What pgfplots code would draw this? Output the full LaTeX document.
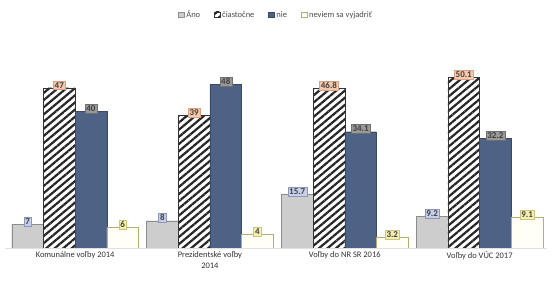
\documentclass[border=0pt]{standalone}
\usepackage{fontspec}
\setmainfont{Carlito}
\usepackage{pgfplots}
\pgfplotsset{compat=1.18}
\usetikzlibrary{patterns.meta}
\definecolor{anoF}{HTML}{CDCDCD}
\definecolor{anoD}{HTML}{8C8C8C}
\definecolor{nieF}{HTML}{4E6285}
\definecolor{nieD}{HTML}{3A4A66}
\definecolor{nevD}{HTML}{B9AC72}
\definecolor{nevF}{HTML}{FFFFF6}
\definecolor{labA}{HTML}{C6CEE8}
\definecolor{labAD}{HTML}{8D97BB}
\definecolor{labC}{HTML}{F6C8AC}
\definecolor{labCD}{HTML}{D9A283}
\definecolor{labN}{HTML}{999999}
\definecolor{labND}{HTML}{707070}
\definecolor{labV}{HTML}{F5EFAE}
\definecolor{labVD}{HTML}{CFC480}
\begin{document}
\begin{tikzpicture}
\useasboundingbox (-5bp,-39bp) rectangle (547bp,248bp);
\begin{axis}[
  scale only axis, width=542bp, height=208bp,
  ybar=0pt, bar width=0.235,
  xmin=-0.52, xmax=3.5, ymin=0, ymax=61,
  axis y line=none, axis x line*=bottom,
  x axis line style={draw=black!12,-},
  xtick={0,1,2,3},
  xticklabels={Komunálne voľby 2014, Prezidentské voľby\\2014, Voľby do NR SR 2016, Voľby do VÚC 2017},
  xticklabel style={align=center, font=\fontsize{8.5}{11}\selectfont, text=black!80},
  major tick length=0pt,
  /pgf/number format/assume math mode=true,
  nodes near coords,
  every node near coord/.append style={font=\fontsize{9}{10}\selectfont\bfseries, inner sep=1.5pt, text=black!75, yshift=-2pt},
  legend style={at={(0.5,1.12)}, anchor=center, draw=none, legend columns=4, font=\fontsize{8.5}{9}\selectfont, text=black!70,
    /tikz/every even column/.append style={column sep=12pt}},
  legend image code/.code={\draw[#1] (0cm,-0.09cm) rectangle (0.2cm,0.11cm);},
]
\addplot[fill=anoF, draw=anoD, every node near coord/.append style={fill=labA, draw=labAD}]
  coordinates {(0,7) (1,8) (2,15.7) (3,9.2)};
\addplot[fill=white, draw=black!80, postaction={pattern={Lines[angle=40,distance=5.5pt,line width=2.2pt]}, pattern color=black!85}, every node near coord/.append style={fill=labC, draw=labCD}]
  coordinates {(0,47) (1,39) (2,46.8) (3,50.1)};
\addplot[fill=nieF, draw=nieD, every node near coord/.append style={fill=labN, draw=labND}]
  coordinates {(0,40) (1,48) (2,34.1) (3,32.2)};
\addplot[fill=nevF, draw=nevD, every node near coord/.append style={fill=labV, draw=labVD}]
  coordinates {(0,6) (1,4) (2,3.2) (3,9.1)};
\legend{Áno, čiastočne, nie, neviem sa vyjadriť}
\end{axis}
\end{tikzpicture}
\end{document}
